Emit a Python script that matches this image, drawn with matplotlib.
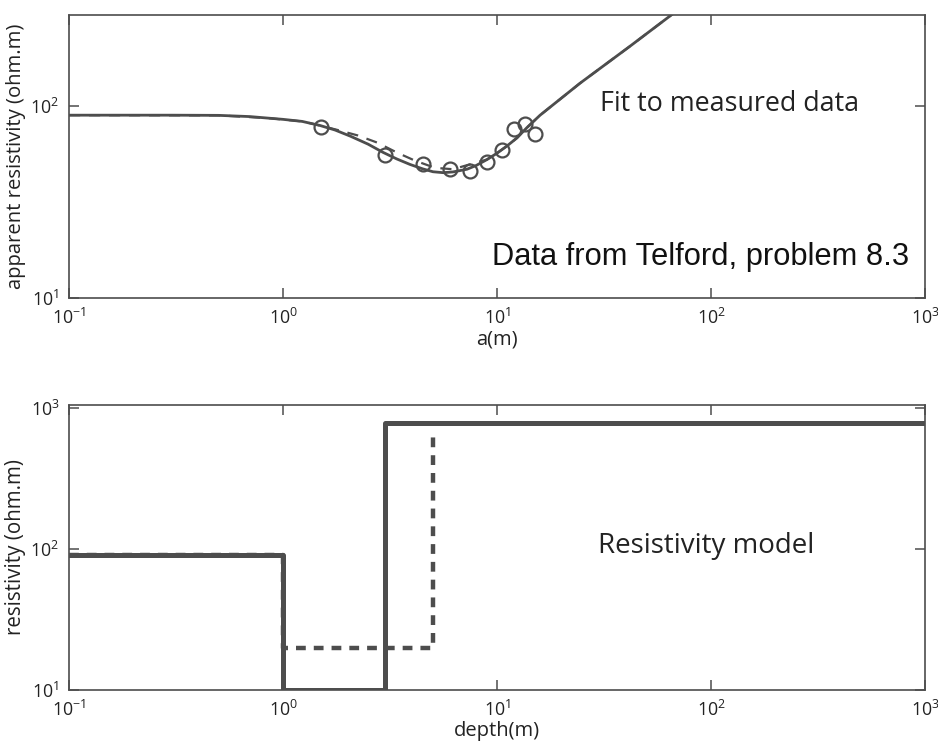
import matplotlib
matplotlib.use("Agg")
import matplotlib.pyplot as plt
from matplotlib.ticker import LogLocator, LogFormatterSciNotation, NullLocator

plt.rcParams['font.family'] = ['Open Sans', 'DejaVu Sans']

# measured data (Telford problem 8.3)
a_meas = [1.5, 3.0, 4.5, 6.0, 7.5, 9.0, 10.5, 12.0, 13.5, 15.0]
rho_meas = [78, 56, 50, 47, 46, 51, 59, 76, 81, 72]

# fitted apparent-resistivity curve (solid)
a_fit = [0.1, 0.3, 0.5, 0.7, 0.86, 1.0, 1.23, 1.49, 1.75, 2.06, 2.5, 2.93, 3.4, 3.92, 4.5,
         5.02, 5.6, 6.23, 7.24, 8.0, 8.98, 10.0, 11.1, 12.4, 13.8, 15.9, 24.4, 41.8, 66, 100]
rho_fit = [90, 90, 89.8, 88.5, 86.8, 85.6, 83.5, 79.5, 75.3, 70, 63.5, 57.6, 53.2, 49.8, 47.2,
           45.6, 45.1, 45.5, 47.0, 49.2, 52.8, 57.0, 62.0, 68.5, 77.5, 90, 132, 206, 303, 430]

# starting-model apparent-resistivity curve (dashed)
a_start = [0.1, 0.5, 0.86, 1.23, 1.49, 1.81, 2.24, 2.75, 3.41, 4.14, 5.13, 6.23, 7.73, 8.98,
           10.0, 11.1, 12.4, 13.8, 15.9, 24.4, 41.8, 66, 100]
rho_start = [90, 89.8, 86.8, 83.5, 79.5, 75.2, 70.5, 64.8, 57.4, 52.1, 47.8, 47.0, 50.4, 52.8,
             57.0, 62.0, 68.5, 77.5, 90, 132, 206, 303, 430]

# layered models
depth_fit = [0.1, 1, 1, 3, 3, 1000]
res_fit = [90, 90, 10, 10, 780, 780]
depth_start = [0.1, 1, 1, 5, 5]
res_start = [90, 90, 20, 20, 680]

C = '#4d4d4d'
W, H = 938, 748
fig = plt.figure(figsize=(W/100, H/100), dpi=100)

def px_axes(l, t, r, b):
    return fig.add_axes([l/W, 1-b/H, (r-l)/W, (b-t)/H])

def style(ax):
    ax.set_xscale('log'); ax.set_yscale('log')
    for s in ax.spines.values():
        s.set_color(C); s.set_linewidth(1.2)
    ax.xaxis.set_major_locator(LogLocator(base=10, numticks=10))
    ax.yaxis.set_major_locator(LogLocator(base=10, numticks=10))
    ax.xaxis.set_minor_locator(NullLocator())
    ax.yaxis.set_minor_locator(NullLocator())
    ax.xaxis.set_major_formatter(LogFormatterSciNotation())
    ax.yaxis.set_major_formatter(LogFormatterSciNotation())
    ax.tick_params(which='major', direction='in', length=7, width=1.1, color=C,
                   top=True, right=True, labelsize=12.8, labelcolor='#222222', pad=7)

ax1 = px_axes(69, 15, 925, 298)
style(ax1)
ax1.plot(a_start, rho_start, '--', color=C, lw=1.6, dashes=(5, 4))
ax1.plot(a_fit, rho_fit, '-', color=C, lw=2.0)
ax1.plot(a_meas, rho_meas, 'o', mfc='none', mec=C, mew=1.6, ms=10)
ax1.set_xlim(0.1, 1000)
ax1.set_ylim(10, 300)
ax1.set_xlabel('a(m)', fontsize=14.5, color='#222222', labelpad=1)
ax1.set_ylabel('apparent resistivity (ohm.m)', fontsize=14.6, color='#222222', labelpad=3)

ax2 = px_axes(69, 405, 925, 690)
style(ax2)
ax2.plot(depth_start, res_start, '--', color=C, lw=3.2, dashes=(2.2, 1.8))
ax2.plot(depth_fit, res_fit, '-', color=C, lw=3.6)
ax2.set_xlim(0.1, 1000)
ax2.set_ylim(10, 1050)
ax2.set_xlabel('depth(m)', fontsize=14.5, color='#222222', labelpad=1)
ax2.set_ylabel('resistivity (ohm.m)', fontsize=14.8, color='#222222', labelpad=3)

fig.text(600/W, 1-104/H, 'Fit to measured data', fontsize=19.4, color='#222222', va='center', ha='left')
fig.text(492/W, 1-257/H, 'Data from Telford, problem 8.3', fontsize=22.2,
         family=['Liberation Sans', 'DejaVu Sans'], color='#111111', va='center', ha='left')
fig.text(598/W, 1-546/H, 'Resistivity model', fontsize=20, color='#222222', va='center', ha='left')

fig.savefig('out.png', dpi=100)
